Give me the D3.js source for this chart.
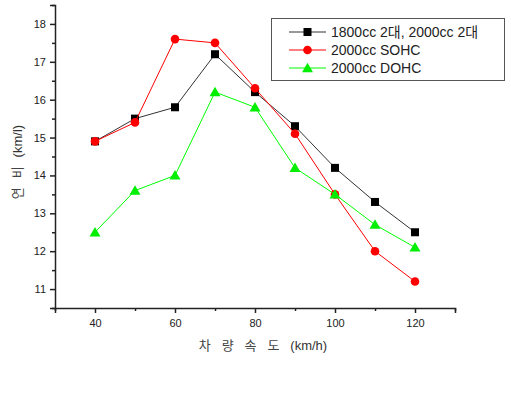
<html>
<head>
<style>
  body { margin: 0; background: white; font-family: Arial, "Liberation Sans", sans-serif; }
</style>
<script src="https://cdn.jsdelivr.net/npm/d3@7"></script>
</head>
<body>
<svg id="chart"></svg>
<script>
// speeds (km/h)
let speeds = [40, 50, 60, 70, 80, 90, 100, 110, 120]
// fuel efficiency (km/l) per engine setup
let black1800 = [14.9, 15.5, 15.8, 17.2, 16.2, 15.3, 14.2, 13.3, 12.5]
let redSOHC = [14.9, 15.4, 17.6, 17.5, 16.3, 15.1, 13.5, 12.0, 11.2]
let greenDOHC = [12.5, 13.6, 14.0, 16.2, 15.8, 14.2, 13.5, 12.7, 12.1]
let seriesNames = ["1800cc 2대, 2000cc 2대", "2000cc SOHC", "2000cc DOHC"]
let xTicks = [40, 60, 80, 100, 120]
let yTicks = [11, 12, 13, 14, 15, 16, 17, 18]

let width = 511, height = 395
let svg = d3.select("#chart").attr("width", width).attr("height", height)

let x = d3.scaleLinear().domain([30, 130]).range([55, 455])
let y = d3.scaleLinear().domain([10.5, 18.5]).range([308, 5])

let series = [
  {name: seriesNames[0], values: black1800, color: "#000000", line: "#333333", shape: "square"},
  {name: seriesNames[1], values: redSOHC, color: "#ff0000", line: "#ff0000", shape: "circle"},
  {name: seriesNames[2], values: greenDOHC, color: "#00ee00", line: "#00ff00", shape: "triangle"}
]

// axes
let xAxis = d3.axisBottom(x).tickValues(xTicks).tickSize(5).tickPadding(6)
let gx = svg.append("g").attr("transform", "translate(0,308)").call(xAxis)
gx.selectAll(".tick line").attr("stroke", "#222").attr("stroke-width", 1.5)
let xMinor = d3.axisBottom(x).tickValues([30, 50, 70, 90, 110, 130]).tickSize(3).tickFormat("")
svg.append("g").attr("transform", "translate(0,308)").call(xMinor)
  .call(g => g.select(".domain").remove())
  .selectAll(".tick line").attr("stroke", "#222").attr("stroke-width", 1.5)

let yAxis = d3.axisLeft(y).tickValues(yTicks).tickSize(5).tickPadding(4)
let gy = svg.append("g").attr("transform", "translate(55,0)").call(yAxis)
gy.selectAll(".tick line").attr("stroke", "#222").attr("stroke-width", 1.5)
let yMinor = d3.axisLeft(y).tickValues([10.5, 11.5, 12.5, 13.5, 14.5, 15.5, 16.5, 17.5, 18.5]).tickSize(3).tickFormat("")
svg.append("g").attr("transform", "translate(55,0)").call(yMinor)
  .call(g => g.select(".domain").remove())
  .selectAll(".tick line").attr("stroke", "#222").attr("stroke-width", 1.5)

svg.selectAll(".domain").attr("stroke", "#222").attr("stroke-width", 1.5)
svg.selectAll(".tick text").attr("font-size", 11).attr("fill", "#222")
  .attr("font-family", "Arial, 'Liberation Sans', sans-serif")

// axis titles
let xt = svg.append("text").attr("x", 263).attr("y", 350).attr("text-anchor", "middle")
  .attr("font-size", 13).attr("fill", "#333")
xt.append("tspan").attr("font-family", "'Noto Sans CJK KR', sans-serif")
  .attr("fill", "#444").attr("letter-spacing", 4).text("차 량 속  도 ")
xt.append("tspan").attr("font-family", "Arial, 'Liberation Sans', sans-serif").text("(km/h)")

let yt = svg.append("text").attr("transform", "translate(22,162) rotate(-90)").attr("text-anchor", "middle")
  .attr("font-size", 13).attr("fill", "#333")
yt.append("tspan").attr("font-family", "'Noto Sans CJK KR', sans-serif")
  .attr("fill", "#444").attr("letter-spacing", 3).text("연 비 ")
yt.append("tspan").attr("font-family", "Arial, 'Liberation Sans', sans-serif").text("(km/l)")

function drawMarker(g, shape, cx, cy, color) {
  if (shape == "square") {
    g.append("rect").attr("x", cx - 4).attr("y", cy - 4).attr("width", 8).attr("height", 8).attr("fill", color)
  } else if (shape == "circle") {
    g.append("circle").attr("cx", cx).attr("cy", cy).attr("r", 4.3).attr("fill", color)
  } else {
    g.append("path").attr("d", d3.symbol(d3.symbolTriangle, 52)()).attr("transform", `translate(${cx},${cy + 1})`).attr("fill", color)
  }
}

let line = d3.line().x((d, i) => x(speeds[i])).y(d => y(d))

for (let s of series) {
  svg.append("path").datum(s.values).attr("d", line).attr("fill", "none")
    .attr("stroke", s.line).attr("stroke-width", 1)
  let g = svg.append("g")
  s.values.forEach((v, i) => drawMarker(g, s.shape, x(speeds[i]), y(v), s.color))
}

// legend
let legend = svg.append("g")
legend.append("rect").attr("x", 271.5).attr("y", 18.5).attr("width", 233).attr("height", 62)
  .attr("fill", "white").attr("stroke", "#555").attr("stroke-width", 1)
series.forEach((s, i) => {
  let ly = 32 + i * 18
  legend.append("line").attr("x1", 289).attr("x2", 326).attr("y1", ly).attr("y2", ly)
    .attr("stroke", s.line).attr("stroke-width", 1)
  drawMarker(legend, s.shape, 307.5, ly, s.color)
  legend.append("text").attr("x", 331).attr("y", ly + 5).attr("font-size", 14).attr("fill", "#222")
    .attr("font-family", "Arial, 'Liberation Sans', 'Noto Sans CJK KR', sans-serif").text(s.name)
})
</script>
</body>
</html>
